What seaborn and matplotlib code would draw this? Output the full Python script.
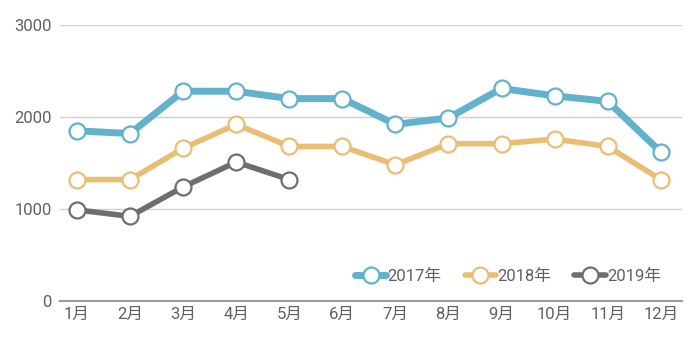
import matplotlib
matplotlib.use("Agg")
import matplotlib.pyplot as plt
import seaborn as sns
import pandas as pd

months = ["1月", "2月", "3月", "4月", "5月", "6月", "7月", "8月", "9月", "10月", "11月", "12月"]
s2017 = [1850, 1820, 2280, 2280, 2200, 2200, 1920, 1990, 2310, 2230, 2170, 1620]
s2018 = [1320, 1320, 1660, 1920, 1680, 1680, 1480, 1710, 1710, 1760, 1680, 1320]
s2019 = [990, 920, 1240, 1510, 1320]
series_names = ["2017年", "2018年", "2019年"]
colors = ["#62b2cc", "#e9be74", "#6c6e72"]
yticks = [0, 1000, 2000, 3000]

sns.set_theme(style="white")
plt.rcParams['font.family'] = ['Roboto', 'Noto Sans CJK SC', 'DejaVu Sans']

fig = plt.figure(figsize=(7, 3.48), dpi=100)
ax = fig.add_axes([60/700, 47/348, 622/700, 276/348])

all_vals = [s2017, s2018, s2019]
widths = [5.0, 4.0, 4.0]
for name, vals, col, lw in zip(series_names, all_vals, colors, widths):
    df = pd.DataFrame({"x": list(range(len(vals))), "y": vals})
    sns.lineplot(data=df, x="x", y="y", ax=ax, color=col, linewidth=lw,
                 marker="o", markersize=11.5, markerfacecolor="white",
                 markeredgecolor=col, markeredgewidth=1.6, label=name,
                 solid_capstyle="round")

ax.set_xlim(-0.32, 11.4)
ax.set_ylim(0, 3000)
ax.set_xticks(range(len(months)))
ax.set_xticklabels(months)
ax.set_yticks(yticks)
ax.set_yticklabels([str(v) for v in yticks])
ax.set_xlabel("")
ax.set_ylabel("")
for v in yticks[1:]:
    ax.axhline(v, color="#cfcfcf", lw=1.0, zorder=0)
for s in ["top", "right", "left"]:
    ax.spines[s].set_visible(False)
ax.spines["bottom"].set_color("#9a9a9a")
ax.spines["bottom"].set_linewidth(1.5)
ax.tick_params(axis="both", length=0, labelsize=12, labelcolor="#606060")
ax.tick_params(axis="x", pad=4)
ax.tick_params(axis="y", pad=6)

leg = ax.legend(loc="center right", bbox_to_anchor=(0.99, 0.09), ncol=3,
                frameon=False, fontsize=12, handlelength=1.9, handletextpad=0.05,
                columnspacing=1.4, labelcolor="#606060")

fig.savefig("out.png", dpi=100)
